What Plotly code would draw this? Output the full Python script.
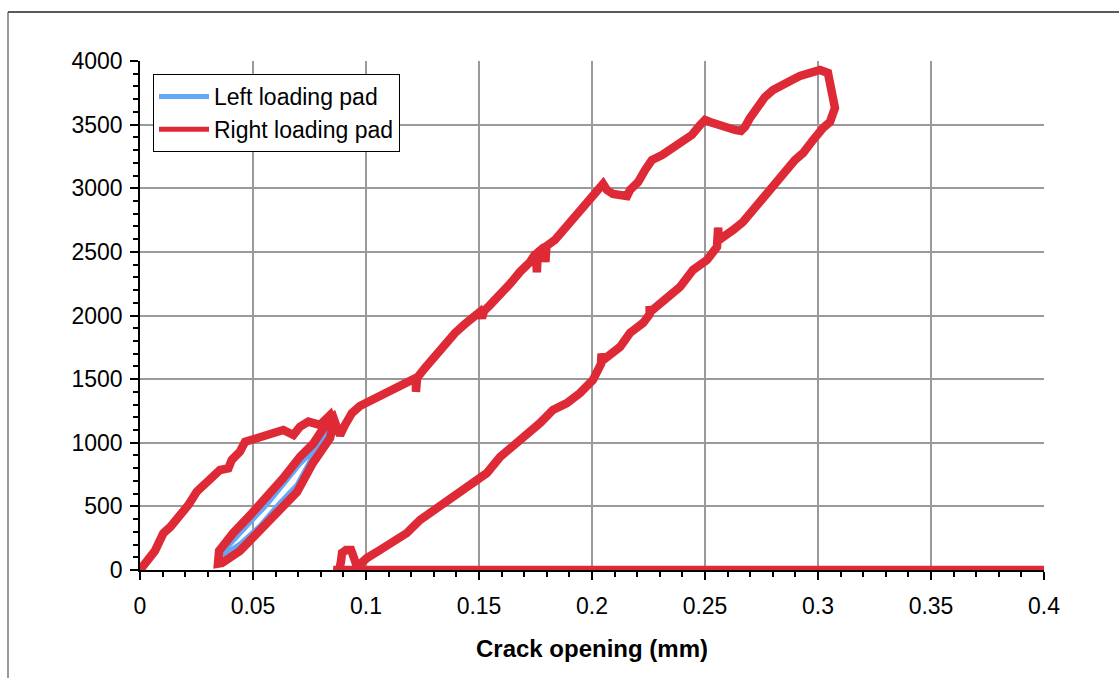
import plotly.graph_objects as go

# ---------------- data ----------------
# initial loading
xA = [0, 0.0008, 0.0035, 0.0066, 0.0103, 0.0135, 0.0162, 0.019, 0.0214, 0.0251, 0.028, 0.031, 0.0354, 0.0391, 0.0406, 0.0442, 0.0465]
yA = [0, 25, 80, 150, 288, 340, 393, 450, 511, 615, 660, 707, 786, 799, 865, 930, 1008]
# plateau ~1000-1200
xB = [0.0516, 0.058, 0.0634, 0.0679, 0.0708, 0.0745, 0.0796, 0.0841]
yB = [1035, 1065, 1100, 1061, 1126, 1166, 1140, 1218]
# inner unload/reload loop (right pad)
xLoopR = [0.0855, 0.0841, 0.0765, 0.0695, 0.0619, 0.0531, 0.0442, 0.0363, 0.0345, 0.0350, 0.0412, 0.0487, 0.0562, 0.0633, 0.0708, 0.0765, 0.0827, 0.0855, 0.0875, 0.0885, 0.0907, 0.0938]
yLoopR = [1150, 1037, 841, 613, 472, 291, 149, 55, 50, 150, 290, 430, 570, 720, 890, 990, 1155, 1200, 1100, 1060, 1140, 1234]
# inner loop (left pad)
xLoopL = [0.0855, 0.0841, 0.0765, 0.0695, 0.0619, 0.0531, 0.0442, 0.0363, 0.0350, 0.0355, 0.0412, 0.0487, 0.0562, 0.0633, 0.0708, 0.0765, 0.0827, 0.0855, 0.0875, 0.0885, 0.0907, 0.0938]
yLoopL = [1150, 1085, 895, 668, 527, 346, 204, 110, 80, 120, 235, 375, 515, 665, 835, 935, 1120, 1190, 1100, 1060, 1140, 1234]
# main loading up to peak
xD = [0.0973, 0.1009, 0.1053, 0.1106, 0.115, 0.1195, 0.1221, 0.1221, 0.1226, 0.1261, 0.1305, 0.135, 0.1394, 0.1438, 0.1482, 0.1504, 0.1513, 0.1522, 0.1549, 0.1593, 0.1637, 0.1681, 0.1726, 0.1752, 0.1756, 0.176, 0.179, 0.1794, 0.1798, 0.1836, 0.1881, 0.1925, 0.1969, 0.2013, 0.2035, 0.2049, 0.2066, 0.2093, 0.2124, 0.2155, 0.2168, 0.2204, 0.2235, 0.2265, 0.231, 0.2354, 0.2398, 0.2442, 0.2478, 0.25, 0.2522, 0.2558, 0.2593, 0.2633, 0.2659, 0.2677, 0.2699, 0.273, 0.2765, 0.2801, 0.2841, 0.2885, 0.292, 0.2965, 0.3009, 0.3044, 0.3053, 0.3066, 0.3075, 0.3053, 0.3022]
yD = [1289, 1320, 1352, 1399, 1438, 1477, 1509, 1400, 1509, 1588, 1682, 1776, 1863, 1933, 1988, 2028, 1980, 2035, 2083, 2161, 2248, 2342, 2421, 2491, 2340, 2495, 2540, 2420, 2545, 2594, 2688, 2782, 2869, 2947, 3018, 3034, 2986, 2955, 2947, 2939, 2986, 3049, 3144, 3222, 3261, 3317, 3364, 3419, 3497, 3537, 3521, 3497, 3474, 3458, 3450, 3482, 3552, 3631, 3717, 3772, 3819, 3851, 3882, 3898, 3930, 3906, 3827, 3717, 3631, 3521, 3474]
# final unloading and zero-load tail
xE = [0.2978, 0.2934, 0.2898, 0.2863, 0.2801, 0.2757, 0.2712, 0.2668, 0.2624, 0.258, 0.2562, 0.2558, 0.2556, 0.2553, 0.2509, 0.2447, 0.2389, 0.2332, 0.2288, 0.2257, 0.2255, 0.2255, 0.2226, 0.2168, 0.2124, 0.208, 0.2049, 0.2042, 0.2040, 0.2004, 0.1947, 0.1889, 0.1827, 0.177, 0.1681, 0.1593, 0.1535, 0.1473, 0.1385, 0.1296, 0.1239, 0.1181, 0.1119, 0.1062, 0.1004, 0.0965, 0.096, 0.0947, 0.0934, 0.0912, 0.0894, 0.0889, 0.0881, 0.0855, 0.12, 0.2, 0.3, 0.4]
yE = [3379, 3277, 3222, 3144, 3010, 2908, 2829, 2735, 2672, 2617, 2594, 2690, 2580, 2539, 2436, 2358, 2224, 2146, 2067, 2028, 2075, 2010, 1941, 1863, 1753, 1682, 1650, 1700, 1620, 1493, 1391, 1312, 1257, 1155, 1022, 888, 762, 684, 574, 472, 393, 291, 212, 157, 94, 39, 24, 94, 157, 157, 134, 63, 0, 0, 0, 0, 0, 0]

x_ticks = [0, 0.05, 0.1, 0.15, 0.2, 0.25, 0.3, 0.35, 0.4]
x_tick_labels = ["0", "0.05", "0.1", "0.15", "0.2", "0.25", "0.3", "0.35", "0.4"]
y_ticks = [0, 500, 1000, 1500, 2000, 2500, 3000, 3500, 4000]
y_tick_labels = ["0", "500", "1000", "1500", "2000", "2500", "3000", "3500", "4000"]

x_title = "Crack opening (mm)"
names = ["Left loading pad", "Right loading pad"]

left_x = xA + xB + xLoopL + xD + xE
left_y = yA + yB + yLoopL + yD + yE
right_x = xA + xB + xLoopR + xD + xE
right_y = yA + yB + yLoopR + yD + yE

BLUE = "#63A8F6"
RED = "#DE2A36"
FONT = "Liberation Sans, Arial, sans-serif"

fig = go.Figure()
fig.add_trace(go.Scatter(x=left_x, y=left_y, mode="lines", name=names[0],
                         line=dict(color=BLUE, width=5), showlegend=False))
fig.add_trace(go.Scatter(x=right_x, y=right_y, mode="lines", name=names[1],
                         line=dict(color=RED, width=8.5), showlegend=False))
# legend entries (same thickness for both, as in the reference)
fig.add_trace(go.Scatter(x=[None], y=[None], mode="lines", name=names[0],
                         line=dict(color=BLUE, width=5)))
fig.add_trace(go.Scatter(x=[None], y=[None], mode="lines", name=names[1],
                         line=dict(color=RED, width=5)))

W, H = 1119, 678
L, R, T, B = 140, 75, 61, 108
pw, ph = W - L - R, H - T - B

def px(xp):
    return (xp - L) / pw

def py(yp):
    return (H - B - yp) / ph

fig.update_layout(
    width=W, height=H, autosize=False,
    margin=dict(l=L, r=R, t=T, b=B),
    paper_bgcolor="white", plot_bgcolor="white",
    font=dict(family=FONT, color="black", size=23),
    showlegend=True,
    legend=dict(x=px(153), y=py(74), xanchor="left", yanchor="top",
                bgcolor="white", bordercolor="black", borderwidth=1,
                font=dict(size=23, family=FONT), itemwidth=50,
                tracegroupgap=0),
    xaxis=dict(range=[0, 0.4], tickvals=x_ticks, ticktext=x_tick_labels,
               showgrid=True, gridcolor="#9a9a9a", gridwidth=1.5,
               showline=True, linecolor="black", linewidth=1.5,
               ticks="outside", ticklen=8, tickwidth=1.5, tickcolor="black",
               ticklabelstandoff=7,
               minor=dict(dtick=0.01, ticks="outside", ticklen=5, tickwidth=1.5,
                          tickcolor="black", showgrid=False),
               tickfont=dict(size=23, family=FONT),
               zeroline=False,
               title=dict(text="<b>" + x_title + "</b>", font=dict(size=24, family=FONT),
                          standoff=22)),
    yaxis=dict(range=[0, 4000], tickvals=y_ticks, ticktext=y_tick_labels,
               showgrid=True, gridcolor="#9a9a9a", gridwidth=1.5,
               showline=True, linecolor="black", linewidth=1.5,
               ticks="outside", ticklen=8, tickwidth=1.5, tickcolor="black",
               ticklabelstandoff=3,
               minor=dict(dtick=100, ticks="outside", ticklen=5, tickwidth=1.5,
                          tickcolor="black", showgrid=False),
               tickfont=dict(size=23, family=FONT),
               zeroline=False),
    shapes=[
        dict(type="line", xref="paper", yref="paper", x0=px(8), x1=px(1130), y0=py(12), y1=py(12),
             line=dict(color="#222222", width=1.5)),
        dict(type="line", xref="paper", yref="paper", x0=px(8), x1=px(8), y0=py(12), y1=py(690),
             line=dict(color="#555555", width=1.2)),
    ],
)

fig.write_html("out.html", config={"displayModeBar": False},
               post_script="document.body.style.margin='0';document.body.style.overflow='hidden';")
